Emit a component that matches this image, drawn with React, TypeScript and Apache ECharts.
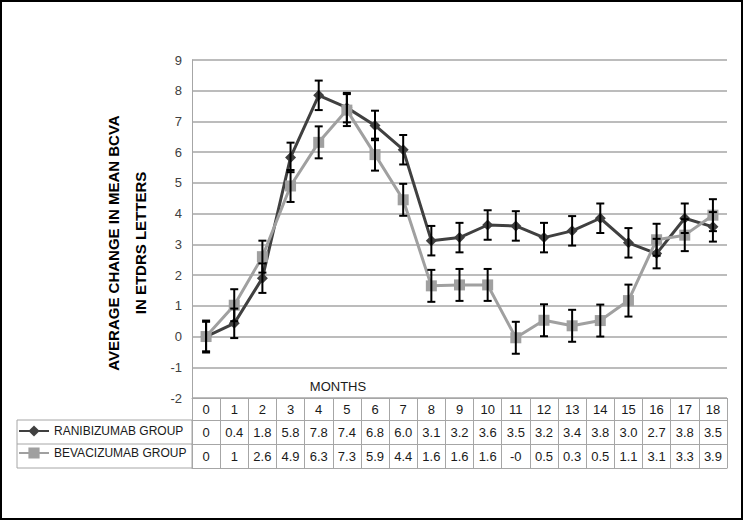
import React, { useEffect, useRef } from 'react';
import * as echarts from 'echarts';

const months = ['0', '1', '2', '3', '4', '5', '6', '7', '8', '9', '10', '11', '12', '13', '14', '15', '16', '17', '18'];
const ranibizumab = [0, 0.43, 1.9, 5.83, 7.85, 7.45, 6.87, 6.08, 3.12, 3.22, 3.63, 3.6, 3.22, 3.44, 3.85, 3.05, 2.7, 3.85, 3.57];
const bevacizumab = [0, 1.02, 2.6, 4.9, 6.32, 7.37, 5.92, 4.45, 1.65, 1.68, 1.68, -0.04, 0.53, 0.35, 0.52, 1.17, 3.15, 3.3, 3.95];
const ranibizumabErr = [0.48, 0.48, 0.48, 0.48, 0.48, 0.48, 0.48, 0.48, 0.48, 0.48, 0.48, 0.48, 0.48, 0.48, 0.48, 0.48, 0.48, 0.48, 0.48];
const bevacizumabErr = [0.52, 0.52, 0.52, 0.52, 0.52, 0.52, 0.52, 0.52, 0.52, 0.52, 0.52, 0.52, 0.52, 0.52, 0.52, 0.52, 0.52, 0.52, 0.52];
const ranibizumabLabels = ['0', '0.4', '1.8', '5.8', '7.8', '7.4', '6.8', '6.0', '3.1', '3.2', '3.6', '3.5', '3.2', '3.4', '3.8', '3.0', '2.7', '3.8', '3.5'];
const bevacizumabLabels = ['0', '1', '2.6', '4.9', '6.3', '7.3', '5.9', '4.4', '1.6', '1.6', '1.6', '-0', '0.5', '0.3', '0.5', '1.1', '3.1', '3.3', '3.9'];
const seriesNames = ['RANIBIZUMAB GROUP', 'BEVACIZUMAB GROUP'];
const yTitle = 'AVERAGE CHANGE IN MEAN BCVA\nIN ETDRS LETTERS';
const xTitle = 'MONTHS';

export default function App() {
  const ref = useRef<HTMLDivElement>(null);
  useEffect(() => {
    const chart = echarts.init(ref.current!, null, { renderer: 'svg' });
    const font = '"Liberation Sans", Arial, sans-serif';
    const gridCol = '#a6a6a6';
    const textCol = '#1a1a1a';

    const tableAxis = (offset: number, labels: string[] | null, tickLen: number, margin: number) => ({
      type: 'category',
      gridIndex: 0,
      position: 'bottom',
      offset,
      data: months,
      boundaryGap: true,
      axisLine: { show: true, onZero: false, lineStyle: { color: gridCol, width: 1 } },
      axisTick: { show: tickLen > 0, length: tickLen, interval: 0, alignWithLabel: false, lineStyle: { color: gridCol, width: 1 } },
      axisLabel: {
        show: labels !== null,
        interval: 0,
        margin,
        verticalAlign: 'middle',
        color: textCol,
        fontSize: 13,
        fontFamily: font,
        formatter: (_v: string, i: number) => (labels ? labels[i] : ''),
      },
      splitLine: { show: false },
    });

    const errSeries = (vals: number[], errs: number[]) => ({
      type: 'custom',
      xAxisIndex: 0,
      yAxisIndex: 0,
      z: 5,
      silent: true,
      encode: { x: 0, y: 1 },
      data: vals.map((v, i) => [i, v, errs[i]]),
      renderItem: (_p: any, api: any) => {
        const x = api.value(0);
        const y = api.value(1);
        const e = api.value(2);
        const top = api.coord([x, y + e]);
        const bot = api.coord([x, y - e]);
        const hw = 4;
        const style = { stroke: '#000', lineWidth: 2 };
        return {
          type: 'group',
          children: [
            { type: 'line', shape: { x1: top[0], y1: top[1], x2: bot[0], y2: bot[1] }, style },
            { type: 'line', shape: { x1: top[0] - hw, y1: top[1], x2: top[0] + hw, y2: top[1] }, style },
            { type: 'line', shape: { x1: bot[0] - hw, y1: bot[1], x2: bot[0] + hw, y2: bot[1] }, style },
          ],
        };
      },
    });

    chart.setOption({
      animation: false,
      backgroundColor: '#fff',
      grid: { left: 192, right: 16, top: 60, bottom: 122, containLabel: false },
      xAxis: [
        tableAxis(0, months, 22, 11),
        tableAxis(22, ranibizumabLabels, 24, 12),
        tableAxis(46, bevacizumabLabels, 24, 12),
        tableAxis(70, null, 0, 0),
      ],
      yAxis: {
        type: 'value',
        min: -2,
        max: 9,
        interval: 1,
        axisLine: { show: true, lineStyle: { color: gridCol, width: 1 } },
        axisTick: { show: false },
        axisLabel: { color: '#404040', fontSize: 13, fontFamily: font, margin: 10 },
        splitLine: { show: true, lineStyle: { color: gridCol, width: 1.5 } },
      },
      legend: {
        data: seriesNames,
        orient: 'vertical',
        left: 18,
        top: 425,
        itemGap: 10,
        itemWidth: 30,
        itemHeight: 14,
        padding: 0,
        selectedMode: false,
        textStyle: { fontSize: 12, fontFamily: font, color: textCol },
      },
      series: [
        {
          name: seriesNames[0],
          type: 'line',
          data: ranibizumab,
          symbol: 'diamond',
          symbolSize: 11,
          lineStyle: { color: '#404040', width: 3 },
          itemStyle: { color: '#404040' },
          z: 2,
        },
        {
          name: seriesNames[1],
          type: 'line',
          data: bevacizumab,
          symbol: 'rect',
          symbolSize: 11,
          lineStyle: { color: '#a0a0a0', width: 3 },
          itemStyle: { color: '#a0a0a0' },
          z: 3,
        },
        errSeries(ranibizumab, ranibizumabErr),
        errSeries(bevacizumab, bevacizumabErr),
      ],
      graphic: [
        { type: 'rect', shape: { x: 1, y: 1, width: 741, height: 518 }, style: { fill: 'none', stroke: '#000', lineWidth: 2 }, silent: true },
        { type: 'rect', shape: { x: 17, y: 420, width: 175, height: 48 }, style: { fill: 'none', stroke: gridCol, lineWidth: 1 }, silent: true },
        { type: 'line', shape: { x1: 17, y1: 444, x2: 192, y2: 444 }, style: { stroke: gridCol, lineWidth: 1 }, silent: true },
        {
          type: 'text',
          x: 338,
          y: 386,
          style: { text: xTitle, fontSize: 13, fontFamily: font, fill: textCol, textAlign: 'center', textVerticalAlign: 'middle' },
          silent: true,
        },
        {
          type: 'text',
          x: 127,
          y: 243,
          rotation: Math.PI / 2,
          style: {
            text: yTitle,
            fontSize: 15,
            fontWeight: 'bold',
            fontFamily: font,
            fill: '#000',
            lineHeight: 27,
            textAlign: 'center',
            textVerticalAlign: 'middle',
          },
          silent: true,
        },
      ],
    });
    return () => chart.dispose();
  }, []);
  return <div ref={ref} style={{ position: 'fixed', left: 0, top: 0, width: 743, height: 520 }} />;
}
